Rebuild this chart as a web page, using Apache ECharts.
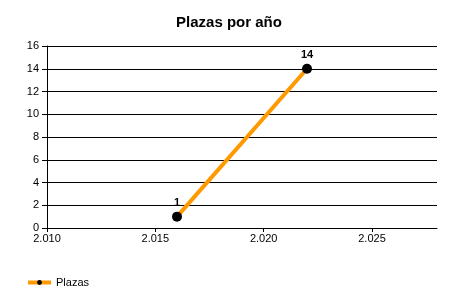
<!DOCTYPE html>
<html><head><meta charset="utf-8">
<script src="https://cdn.jsdelivr.net/npm/echarts@6/dist/echarts.min.js"></script>
<style>html,body{margin:0;padding:0;background:#fff}#c{width:450px;height:300px}</style>
</head><body><div id="c"></div>
<script>
const years = [2016, 2022];
const plazas = [1, 14];
const seriesName = 'Plazas';
const titleText = 'Plazas por año';

const chart = echarts.init(document.getElementById('c'));
const font = 'Liberation Sans, Arial, sans-serif';
chart.setOption({
  animation: false,
  title: {text: titleText, left: 224, textAlign: 'center', top: 10,
    textStyle: {fontFamily: font, fontSize: 15, fontWeight: 'bold', color: '#000'}},
  legend: {left: 21, top: 272, itemWidth: 23, itemHeight: 6, itemGap: 5,
    lineStyle: {width: 4, color: '#FF9900'},
    textStyle: {fontFamily: font, fontSize: 11, color: '#000'},
    data: [seriesName]},
  grid: {left: 47, right: 13, top: 46, bottom: 72, containLabel: false},
  xAxis: {type: 'value', min: 2010, max: 2028, interval: 5,
    axisLine: {show: true, onZero: false, lineStyle: {color: '#000', width: 1}},
    axisTick: {show: true, length: 4, lineStyle: {color: '#000'}},
    splitLine: {show: false},
    axisLabel: {fontFamily: font, fontSize: 11, color: '#000', margin: 5, showMaxLabel: false,
      formatter: v => String(v).replace(/(\d)(?=(\d{3})+$)/, '$1.')}},
  yAxis: {type: 'value', min: 0, max: 16, interval: 2,
    axisLine: {show: true, lineStyle: {color: '#000', width: 1}},
    axisTick: {show: true, length: 5, lineStyle: {color: '#000'}},
    splitLine: {show: true, lineStyle: {color: '#000', width: 1}},
    axisLabel: {fontFamily: font, fontSize: 11, color: '#000', margin: 8}},
  series: [{name: seriesName, type: 'line', data: years.map((y, i) => [y, plazas[i]]),
    symbol: 'circle', symbolSize: 10,
    lineStyle: {color: '#FF9900', width: 4},
    itemStyle: {color: '#000', borderWidth: 0},
    label: {show: true, position: 'top', distance: 3, fontFamily: font, fontSize: 11, fontWeight: 'bold', color: '#000'}}]
});
</script></body></html>
